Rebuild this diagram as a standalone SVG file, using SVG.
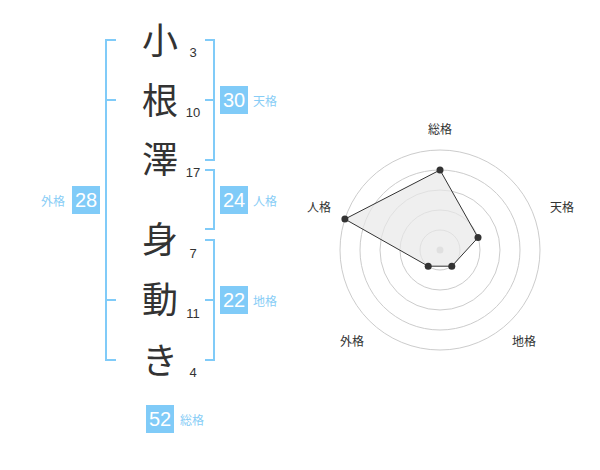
<svg xmlns="http://www.w3.org/2000/svg" width="600" height="470" viewBox="0 0 600 470">
<style>
.br{fill:none;stroke:#80cbf8;stroke-width:2}
.ch{font-family:"Noto Sans CJK JP","Noto Sans",sans-serif;font-size:36px;fill:#333;text-anchor:middle}
.num{font-family:"Liberation Sans",Arial,sans-serif;font-size:13px;fill:#333;text-anchor:middle}
.box{fill:#80cbf8}
.bn{font-family:"Liberation Sans",Arial,sans-serif;font-size:20px;fill:#fff;text-anchor:middle}
.bl{font-family:"Noto Sans CJK JP",sans-serif;font-size:12px;fill:#88cdf6}
.ring{fill:none;stroke:#ccc;stroke-width:1}
.rl{font-family:"Noto Sans CJK JP",sans-serif;font-size:12px;fill:#333;text-anchor:middle}
.pt{fill:#333}
</style>
<rect width="600" height="470" fill="#fff"/>
<g id="connectors">
<path class="br" d="M116,40 H106 V360 H116 M106,100 H116 M106,300 H116"/>
<path class="br" d="M205,40 H214 V160 H205 M214,100 H205"/>
<path class="br" d="M205,170 H214 V229 H205"/>
<path class="br" d="M205,240 H214 V360 H205 M214,300 H205"/>
</g>
<g id="chars">
<text class="ch" x="160" y="54">小</text>
<text class="ch" x="160" y="114">根</text>
<text class="ch" x="160" y="173">澤</text>
<text class="ch" x="160" y="253">身</text>
<text class="ch" x="160" y="313">動</text>
<text class="ch" x="160" y="374">き</text>
<text class="num" x="193" y="57">3</text>
<text class="num" x="193" y="117">10</text>
<text class="num" x="193" y="177">17</text>
<text class="num" x="193" y="258">7</text>
<text class="num" x="193" y="318">11</text>
<text class="num" x="193" y="377">4</text>
</g>
<g id="tenkaku"><rect class="box" x="220" y="86" width="28" height="28"/><text class="bn" x="234" y="107">30</text><text class="bl" x="253" y="106">天格</text></g>
<g id="jinkaku"><rect class="box" x="220" y="186" width="28" height="28"/><text class="bn" x="234" y="207">24</text><text class="bl" x="253" y="206">人格</text></g>
<g id="chikaku"><rect class="box" x="220" y="286" width="28" height="28"/><text class="bn" x="234" y="307">22</text><text class="bl" x="253" y="306">地格</text></g>
<g id="gaikaku"><rect class="box" x="72" y="186" width="28" height="28"/><text class="bn" x="86" y="207">28</text><text class="bl" x="41" y="206">外格</text></g>
<g id="soukaku"><rect class="box" x="146" y="405" width="28" height="28"/><text class="bn" x="160" y="426">52</text><text class="bl" x="180" y="425">総格</text></g>
<g id="radar">
<circle class="ring" cx="440" cy="250" r="20"/>
<circle class="ring" cx="440" cy="250" r="40"/>
<circle class="ring" cx="440" cy="250" r="60"/>
<circle class="ring" cx="440" cy="250" r="80"/>
<circle class="ring" cx="440" cy="250" r="100"/>
<circle cx="440" cy="250" r="3.5" fill="#ccc"/>
<polygon points="440,170 478,237.6 451.8,266.2 428.2,266.2 344.9,219.1" fill="#e8e8e8" fill-opacity="0.7" stroke="#333" stroke-width="1"/>
<circle class="pt" cx="440" cy="170" r="3.5"/>
<circle class="pt" cx="478" cy="237.6" r="3.5"/>
<circle class="pt" cx="451.8" cy="266.2" r="3.5"/>
<circle class="pt" cx="428.2" cy="266.2" r="3.5"/>
<circle class="pt" cx="344.9" cy="219.1" r="3.5"/>
<text class="rl" x="440" y="134">総格</text>
<text class="rl" x="562" y="212">天格</text>
<text class="rl" x="524" y="346">地格</text>
<text class="rl" x="352" y="346">外格</text>
<text class="rl" x="319" y="212">人格</text>
</g>
</svg>
